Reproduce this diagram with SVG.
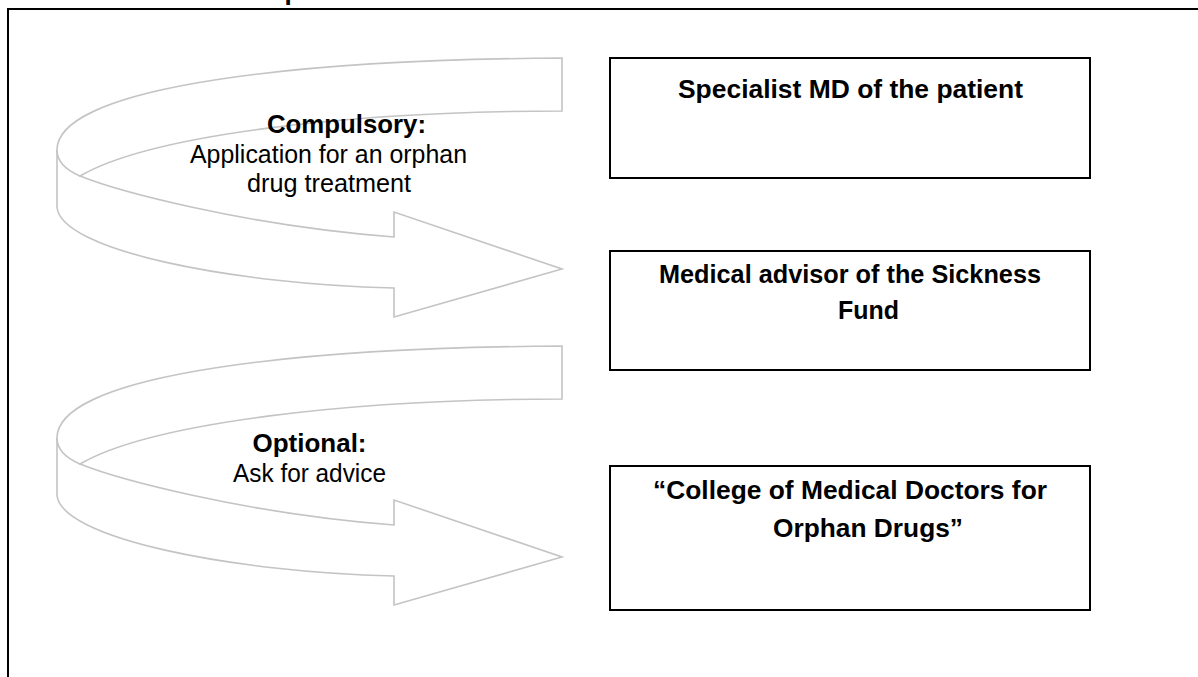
<svg xmlns="http://www.w3.org/2000/svg" width="1198" height="677" viewBox="0 0 1198 677">
<defs>
<style>
.frame{fill:none;stroke:#000;stroke-width:2}
.box{fill:#fff;stroke:#000;stroke-width:2}
.arr{fill:#fff;stroke:#c4c4c4;stroke-width:1.6;stroke-linejoin:miter}
.fold{fill:none;stroke:#c4c4c4;stroke-width:1.6}
.b{font-family:"Liberation Sans",Arial,sans-serif;font-weight:bold;font-size:26px;fill:#000}
.r{font-family:"Liberation Sans",Arial,sans-serif;font-size:25px;fill:#000}
</style>
<g id="curvedArrow">
<path class="arr" d="M562,58 L562,111 C350,111 150,135 80,176 C115,190 240,225 394,237 L394,212 L562,269 L394,317 L394,288 C230,284 60,250 57,207 L57,150 C57,92 260,60 562,58 Z"/>
<path class="fold" d="M57,150 C57,162 66,170 80,176"/>
</g>
</defs>
<rect width="1198" height="677" fill="#fff"/>
<g id="frame">
<path class="frame" d="M8,677 L8,9 L1198,9"/>
<text class="b" x="284.5" y="0">p</text>
</g>
<g id="connectors">
<g id="arrow-compulsory">
<use href="#curvedArrow"/>
<text class="b" x="267" y="133" textLength="159" lengthAdjust="spacingAndGlyphs">Compulsory:</text>
<text class="r" x="190" y="163" textLength="277" lengthAdjust="spacingAndGlyphs">Application for an orphan</text>
<text class="r" x="247" y="192" textLength="164" lengthAdjust="spacingAndGlyphs">drug treatment</text>
</g>
<g id="arrow-optional">
<use href="#curvedArrow" transform="translate(0,288)"/>
<text class="b" x="252.5" y="452" textLength="114" lengthAdjust="spacingAndGlyphs">Optional:</text>
<text class="r" x="233" y="482" textLength="153" lengthAdjust="spacingAndGlyphs">Ask for advice</text>
</g>
</g>
<g id="node-specialist">
<rect class="box" x="610" y="58" width="480" height="120"/>
<text class="b" x="678" y="98" textLength="345" lengthAdjust="spacingAndGlyphs">Specialist MD of the patient</text>
</g>
<g id="node-advisor">
<rect class="box" x="610" y="251" width="480" height="119"/>
<text class="b" x="659" y="283" textLength="382" lengthAdjust="spacingAndGlyphs">Medical advisor of the Sickness</text>
<text class="b" x="838" y="319" textLength="61" lengthAdjust="spacingAndGlyphs">Fund</text>
</g>
<g id="node-college">
<rect class="box" x="610" y="466" width="480" height="144"/>
<text class="b" x="653" y="499" textLength="394" lengthAdjust="spacingAndGlyphs">“College of Medical Doctors for</text>
<text class="b" x="773" y="537" textLength="190" lengthAdjust="spacingAndGlyphs">Orphan Drugs”</text>
</g>
</svg>
